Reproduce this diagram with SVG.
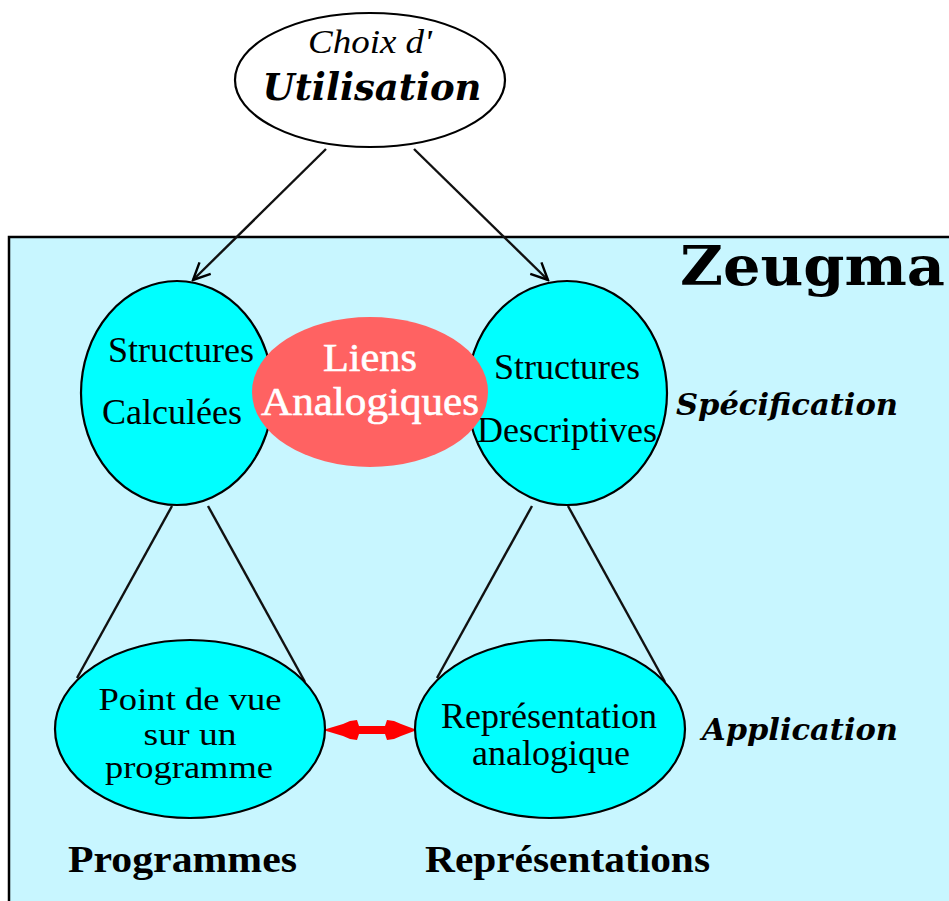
<svg xmlns="http://www.w3.org/2000/svg" width="949" height="901" viewBox="0 0 949 901">
  <defs>
    <marker id="open-arrow" markerUnits="userSpaceOnUse" markerWidth="22" markerHeight="22" viewBox="0 0 22 22" refX="20" refY="11" orient="auto">
      <path d="M3,3 L20,11 L3,19" fill="none" stroke="#000" stroke-width="2.4"/>
    </marker>
    <style>
      .node { fill: #00ffff; stroke: #000; stroke-width: 2.2; }
      .label { font-family: "Liberation Serif", "Times New Roman", serif; font-size: 36px; fill: #000; text-anchor: middle; }
      .small { font-size: 32px; }
      .side { font-family: "DejaVu Serif", serif; font-weight: bold; font-style: italic; font-size: 30px; fill: #000; }
      .foot { font-family: "Liberation Serif", "Times New Roman", serif; font-weight: bold; font-size: 38px; fill: #000; }
      .link { stroke: #111; stroke-width: 2.4; fill: none; }
    </style>
  </defs>

  <rect width="949" height="901" fill="#ffffff"/>

  <!-- Zeugma frame -->
  <g id="zeugma">
    <rect x="9" y="237" width="970" height="700" fill="#c8f6ff" stroke="#000" stroke-width="2.5"/>
    <text x="680" y="285" font-family="DejaVu Serif, serif" font-weight="bold" font-size="55" textLength="265" lengthAdjust="spacingAndGlyphs">Zeugma</text>
    <text class="side" x="676" y="415" textLength="222" lengthAdjust="spacingAndGlyphs">Spécification</text>
    <text class="side" x="702" y="740" textLength="196" lengthAdjust="spacingAndGlyphs">Application</text>
    <text class="foot" x="68" y="872" textLength="229" lengthAdjust="spacingAndGlyphs">Programmes</text>
    <text class="foot" x="425" y="872" textLength="285" lengthAdjust="spacingAndGlyphs">Représentations</text>
  </g>

  <!-- connectors -->
  <g id="connectors">
    <line class="link" x1="326" y1="149" x2="193" y2="280" marker-end="url(#open-arrow)"/>
    <line class="link" x1="414" y1="149" x2="548" y2="280" marker-end="url(#open-arrow)"/>
    <line class="link" x1="172" y1="506" x2="77" y2="678"/>
    <line class="link" x1="208" y1="506" x2="305" y2="682"/>
    <line class="link" x1="532" y1="506" x2="437" y2="678"/>
    <line class="link" x1="568" y1="506" x2="665" y2="682"/>
    <polygon fill="#ff0000" points="323,730 343,724 350,721 357,720 359,726 385,726 387,720 394,721 401,724 417,730 401,736 394,739 387,740 385,734 359,734 357,740 350,739 343,736"/>
  </g>

  <!-- Choix d'Utilisation -->
  <g id="choix">
    <ellipse cx="370" cy="80" rx="135" ry="67" fill="#ffffff" stroke="#000" stroke-width="2.2"/>
    <text x="370" y="53" font-family="Liberation Serif, serif" font-style="italic" font-size="34" text-anchor="middle" textLength="124" lengthAdjust="spacingAndGlyphs">Choix d'</text>
    <text x="372" y="100" font-family="DejaVu Serif, serif" font-weight="bold" font-style="italic" font-size="38" text-anchor="middle" textLength="219" lengthAdjust="spacingAndGlyphs">Utilisation</text>
  </g>

  <!-- Structures Calculées -->
  <g id="structures-calculees">
    <ellipse class="node" cx="177" cy="393" rx="96" ry="112"/>
    <text class="label" x="181" y="362">Structures</text>
    <text class="label" x="172" y="424">Calculées</text>
  </g>

  <!-- Structures Descriptives -->
  <g id="structures-descriptives">
    <ellipse class="node" cx="567" cy="393" rx="100" ry="112"/>
    <text class="label" x="567" y="379">Structures</text>
    <text class="label" x="567" y="442">Descriptives</text>
  </g>

  <!-- Liens Analogiques -->
  <g id="liens-analogiques">
    <ellipse cx="370" cy="392" rx="118" ry="75" fill="#ff6262"/>
    <text x="370" y="371" font-family="Liberation Serif, serif" font-size="40" fill="#ffffff" stroke="#ffffff" stroke-width="0.6" text-anchor="middle" textLength="94" lengthAdjust="spacingAndGlyphs">Liens</text>
    <text x="370" y="415" font-family="Liberation Serif, serif" font-size="40" fill="#ffffff" stroke="#ffffff" stroke-width="0.6" text-anchor="middle" textLength="218" lengthAdjust="spacingAndGlyphs">Analogiques</text>
  </g>

  <!-- Point de vue sur un programme -->
  <g id="point-de-vue">
    <ellipse class="node" cx="190" cy="729" rx="135" ry="89"/>
    <text class="label small" x="190" y="710" textLength="183" lengthAdjust="spacingAndGlyphs">Point de vue</text>
    <text class="label small" x="190" y="745" textLength="93" lengthAdjust="spacingAndGlyphs">sur un</text>
    <text class="label small" x="189" y="778" textLength="168" lengthAdjust="spacingAndGlyphs">programme</text>
  </g>

  <!-- Représentation analogique -->
  <g id="representation-analogique">
    <ellipse class="node" cx="550" cy="729" rx="135" ry="89"/>
    <text class="label" x="549" y="728">Représentation</text>
    <text class="label" x="551" y="765">analogique</text>
  </g>
</svg>
